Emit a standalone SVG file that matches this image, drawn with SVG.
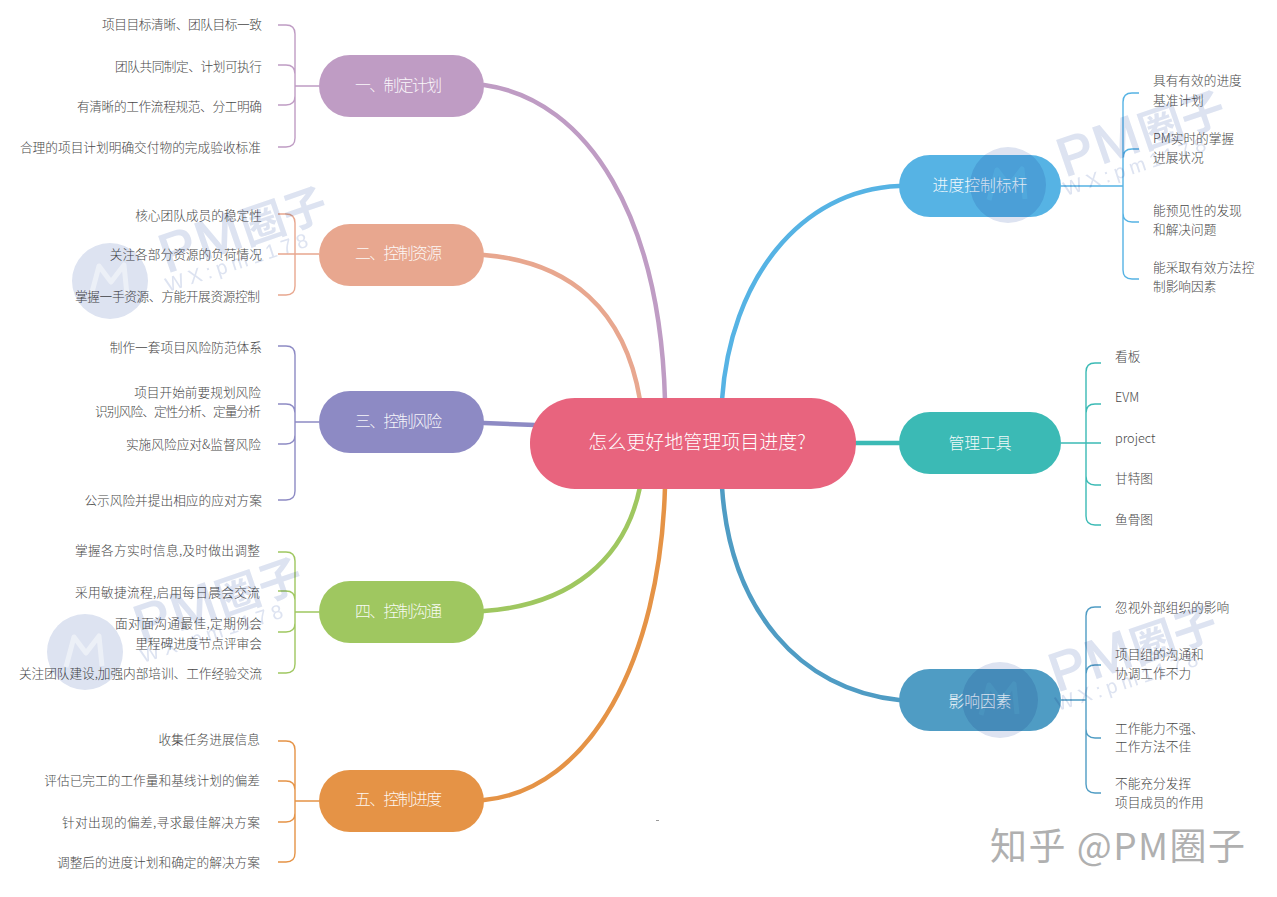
<svg xmlns="http://www.w3.org/2000/svg" xmlns:xlink="http://www.w3.org/1999/xlink" width="1277" height="897" viewBox="0 0 1277 897">
<style>
text{font-family:"Noto Sans CJK SC","Noto Sans",sans-serif;font-weight:300}
.l{font-size:12.7px;fill:#484848;text-anchor:end}
.r{font-size:12.7px;fill:#484848}
.n{font-size:15.8px;fill:#fff;text-anchor:middle;opacity:.92}
.c{fill:none;stroke-width:4.5;stroke-linecap:round}
.b{fill:none;stroke-width:1.4}
.wm{fill:#dde3f1}
.wl{fill:none;stroke:#fff;stroke-width:5;opacity:.45;stroke-linejoin:round}
.wt{fill:#dde3f1;font-family:"Liberation Sans",sans-serif;font-weight:400}
.mk{mix-blend-mode:multiply}
</style>
<defs>
<g id="mark">
<circle class="wm" cx="0" cy="0" r="38"/>
<path class="wl" d="M-19 15L-11 -15L1 1L14 -16L17 14"/>
<text class="wt" transform="translate(57,-8) rotate(-19)" font-size="54" letter-spacing="2" stroke="#dde3f1" stroke-width="1.5">PM<tspan font-family="Noto Sans CJK SC" font-weight="700" font-size="44" letter-spacing="0" stroke-width="0">圈子</tspan></text>
<text class="wt" transform="translate(58,11) rotate(-18)" font-size="20" letter-spacing="5">WX:pm1178</text>
</g>
</defs>
<rect width="1277" height="897" fill="#fff"/>
<g id="connectors">
<path class="c" stroke="#bf9cc4" d="M484 85C590 100 660 220 665 400"/>
<path class="c" stroke="#e8a78f" d="M484 255C570 262 625 310 640 400"/>
<path class="c" stroke="#8d8ac4" d="M484 423L535 425"/>
<path class="c" stroke="#9fc760" d="M484 611C570 605 625 560 640 487"/>
<path class="c" stroke="#e59346" d="M484 800C590 790 660 660 665 487"/>
<path class="c" stroke="#56b3e4" d="M899 186C800 190 730 280 722 400"/>
<path class="c" stroke="#3bbab5" d="M856 443H899"/>
<path class="c" stroke="#4f9cc4" d="M899 700C800 690 730 610 722 487"/>

<g class="b" stroke="#bf9cc4"><path d="M278 25h8q9 0 9 9V138q0 9-9 9h-8M278 65h8q9 0 9 9M278 105h8q9 0 9-9M295 86H319"/></g>
<g class="b" stroke="#e8a78f"><path d="M278 214h8q9 0 9 9V286q0 9-9 9h-8M278 254H319"/></g>
<g class="b" stroke="#8d8ac4"><path d="M278 346h8q9 0 9 9V491q0 9-9 9h-8M278 404h8q9 0 9 9M278 444h8q9 0 9-9M295 422H319"/></g>
<g class="b" stroke="#9fc760"><path d="M278 552h8q9 0 9 9V664q0 9-9 9h-8M278 591h8q9 0 9 9M278 632h8q9 0 9-9M295 612H319"/></g>
<g class="b" stroke="#e59346"><path d="M278 741h8q9 0 9 9V853q0 9-9 9h-8M278 781h8q9 0 9 9M278 822h8q9 0 9-9M295 801H319"/></g>
<g class="b" stroke="#56b3e4"><path d="M1139 93h-7q-9 0-9 9V270q0 9 9 9h7M1139 149h-7q-9 0-9 9M1139 222h-7q-9 0-9-9M1123 186H1061"/></g>
<g class="b" stroke="#3bbab5"><path d="M1101 363h-6q-9 0-9 9V516q0 9 9 9h6M1101 404h-6q-9 0-9 9M1101 485h-6q-9 0-9-9M1061 443H1101"/></g>
<g class="b" stroke="#4f9cc4"><path d="M1101 607h-6q-9 0-9 9V784q0 9 9 9h6M1101 665h-6q-9 0-9 9M1101 738h-6q-9 0-9-9M1086 700H1061"/></g>
</g>

<g id="center"><rect x="530" y="398" width="326" height="91" rx="45" fill="#e8647e"/><text x="697" y="449" font-size="19" fill="#fff" text-anchor="middle">怎么更好地管理项目进度?</text></g>

<g id="n1"><rect x="319" y="55" width="165" height="62" rx="31" fill="#bf9cc4"/><text class="n" x="398.5" y="91" textLength="87">一、制定计划</text></g>
<g id="n2"><rect x="319" y="224" width="165" height="62" rx="31" fill="#e8a78f"/><text class="n" x="398.5" y="259" textLength="87">二、控制资源</text></g>
<g id="n3"><rect x="319" y="391" width="165" height="62" rx="31" fill="#8d8ac4"/><text class="n" x="398.5" y="427" textLength="87">三、控制风险</text></g>
<g id="n4"><rect x="319" y="581" width="165" height="62" rx="31" fill="#9fc760"/><text class="n" x="398.5" y="617" textLength="87">四、控制沟通</text></g>
<g id="n5"><rect x="319" y="770" width="165" height="62" rx="31" fill="#e59346"/><text class="n" x="398.5" y="805" textLength="87">五、控制进度</text></g>
<g id="n6"><rect x="899" y="155" width="162" height="62" rx="31" fill="#56b3e4"/><text class="n" x="980" y="191">进度控制标杆</text></g>
<g id="n7"><rect x="899" y="412" width="162" height="62" rx="31" fill="#3bbab5"/><text class="n" x="980" y="449">管理工具</text></g>
<g id="n8"><rect x="899" y="669" width="162" height="62" rx="31" fill="#4f9cc4"/><text class="n" x="980" y="707">影响因素</text></g>

<g id="t1">
<text class="l" x="262" y="29" textLength="160">项目目标清晰、团队目标一致</text>
<text class="l" x="262" y="71" textLength="147">团队共同制定、计划可执行</text>
<text class="l" x="262" y="111" textLength="185">有清晰的工作流程规范、分工明确</text>
<text class="l" x="261" y="152">合理的项目计划明确交付物的完成验收标准</text>
</g>
<g id="t2">
<text class="l" x="262" y="220">核心团队成员的稳定性</text>
<text class="l" x="262" y="259">关注各部分资源的负荷情况</text>
<text class="l" x="260" y="301" textLength="185">掌握一手资源、方能开展资源控制</text>
</g>
<g id="t3">
<text class="l" x="262" y="352">制作一套项目风险防范体系</text>
<text class="l" x="261" y="397">项目开始前要规划风险</text>
<text class="l" x="261" y="416" textLength="166">识别风险、定性分析、定量分析</text>
<text class="l" x="261" y="449">实施风险应对&amp;监督风险</text>
<text class="l" x="262" y="505">公示风险并提出相应的应对方案</text>
</g>
<g id="t4">
<text class="l" x="260" y="555" textLength="185">掌握各方实时信息,及时做出调整</text>
<text class="l" x="260" y="597" textLength="185">采用敏捷流程,启用每日晨会交流</text>
<text class="l" x="262" y="628" textLength="147">面对面沟通最佳,定期例会</text>
<text class="l" x="262" y="648">里程碑进度节点评审会</text>
<text class="l" x="262" y="678" textLength="243">关注团队建设,加强内部培训、工作经验交流</text>
</g>
<g id="t5">
<text class="l" x="260" y="744">收集任务进展信息</text>
<text class="l" x="260" y="785">评估已完工的工作量和基线计划的偏差</text>
<text class="l" x="260" y="827" textLength="198">针对出现的偏差,寻求最佳解决方案</text>
<text class="l" x="260" y="867">调整后的进度计划和确定的解决方案</text>
</g>
<g id="t6">
<text class="r" x="1153" y="85">具有有效的进度</text>
<text class="r" x="1153" y="105">基准计划</text>
<text class="r" x="1153" y="143">PM实时的掌握</text>
<text class="r" x="1153" y="162">进展状况</text>
<text class="r" x="1153" y="215">能预见性的发现</text>
<text class="r" x="1153" y="234">和解决问题</text>
<text class="r" x="1153" y="272">能采取有效方法控</text>
<text class="r" x="1153" y="291">制影响因素</text>
</g>
<g id="t7">
<text class="r" x="1115" y="361">看板</text>
<text class="r" x="1115" y="402">EVM</text>
<text class="r" x="1115" y="443">project</text>
<text class="r" x="1115" y="483">甘特图</text>
<text class="r" x="1115" y="524">鱼骨图</text>
</g>
<g id="t8">
<text class="r" x="1115" y="612">忽视外部组织的影响</text>
<text class="r" x="1115" y="659">项目组的沟通和</text>
<text class="r" x="1115" y="678">协调工作不力</text>
<text class="r" x="1115" y="733">工作能力不强、</text>
<text class="r" x="1115" y="751">工作方法不佳</text>
<text class="r" x="1115" y="788">不能充分发挥</text>
<text class="r" x="1115" y="807">项目成员的作用</text>
</g>

<use class="mk" xlink:href="#mark" href="#mark" x="110" y="281"/>
<use class="mk" xlink:href="#mark" href="#mark" x="85" y="652"/>
<use class="mk" xlink:href="#mark" href="#mark" x="1008" y="185"/>
<use class="mk" xlink:href="#mark" href="#mark" x="1000" y="700"/>

<rect x="656" y="820" width="3" height="1" fill="#999"/>
<text x="990" y="860" font-size="37" fill="#b0b0b0" textLength="255" style="font-family:'Noto Sans CJK SC',sans-serif;font-weight:400">知乎 @PM圈子</text>
</svg>
